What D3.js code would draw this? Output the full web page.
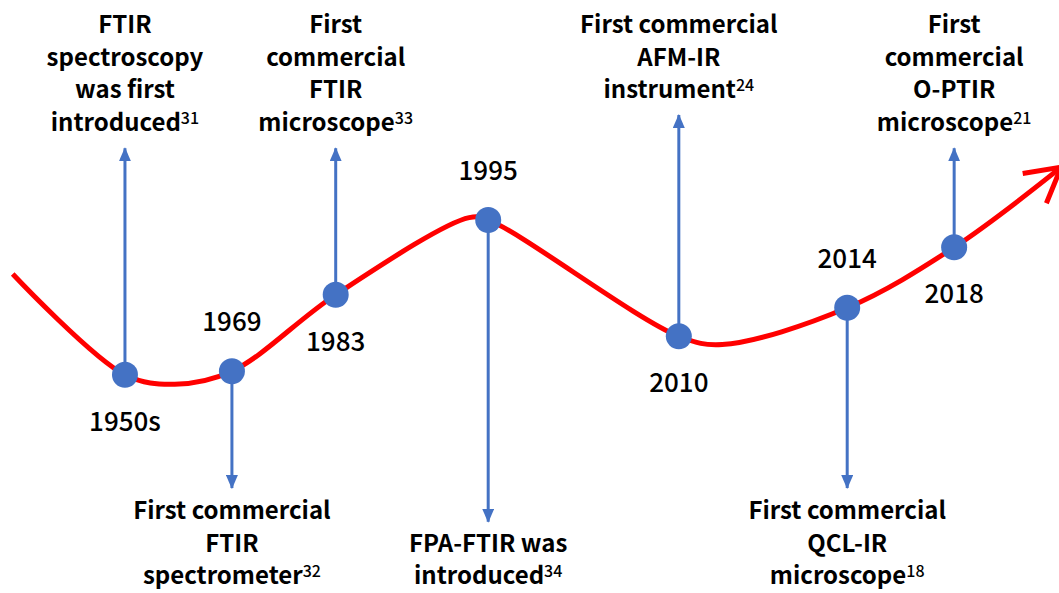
<!DOCTYPE html>
<html lang="en">
<head>
    <meta charset="UTF-8">
    <title>IR spectroscopy timeline</title>
    <style>
        html, body { margin: 0; padding: 0; background: #fff; overflow: hidden; }
        text { font-family: 'Noto Sans CJK SC', 'Noto Sans', sans-serif; fill: #000; }
        .desc { font-size: 24px; font-weight: 700; }
        .year { font-size: 26px; font-weight: 500; }
    </style>
</head>
<body>
    <div id="container"></div>
    <script src="https://d3js.org/d3.v7.min.js"></script>
    <script>
        // events along the timeline (x / y in percent of the picture)
        const years = ["1950s", "1969", "1983", "1995", "2010", "2014", "2018"];
        const eventX = [11.8, 21.9, 31.7, 46.1, 64.1, 80.0, 90.1];
        const eventY = [36.8, 37.4, 50.3, 62.9, 43.3, 48.1, 58.3];
        const arrowTo = [75.0, 17.7, 75.0, 12.0, 80.6, 17.7, 75.0];
        const yearSide = ["below", "above", "below", "above", "below", "above", "below"];
        const descLines = [
            ["FTIR", "spectroscopy", "was first", "introduced"],
            ["First commercial", "FTIR", "spectrometer"],
            ["First", "commercial", "FTIR", "microscope"],
            ["FPA-FTIR was", "introduced"],
            ["First commercial", "AFM-IR", "instrument"],
            ["First commercial", "QCL-IR", "microscope"],
            ["First", "commercial", "O-PTIR", "microscope"]
        ];
        const refs = ["31", "32", "33", "34", "24", "18", "21"];

        // extra points that shape the red trend line (start, dips, peak, end)
        const curveX = [1.2, 11.8, 16.5, 21.9, 31.7, 44.3, 46.1, 64.1, 68.2, 80.0, 90.1, 100.2];
        const curveY = [53.8, 36.8, 35.2, 37.4, 50.3, 63.3, 62.9, 43.3, 41.9, 48.1, 58.3, 71.8];

        const width = 1059, height = 593;
        const blue = '#4472C4';

        const x = d3.scaleLinear().domain([0, 100]).range([0, width]);
        const y = d3.scaleLinear().domain([0, 100]).range([height, 0]);

        const svg = d3.select('#container').append('svg')
            .attr('width', width).attr('height', height);

        const defs = svg.append('defs');
        defs.append('marker').attr('id', 'blueHead')
            .attr('markerUnits', 'userSpaceOnUse')
            .attr('viewBox', '0 0 14 12').attr('refX', 13).attr('refY', 6)
            .attr('markerWidth', 14).attr('markerHeight', 12)
            .attr('orient', 'auto')
            .append('path').attr('d', 'M0,0 L14,6 L0,12 Z').attr('fill', blue);
        defs.append('marker').attr('id', 'redHead')
            .attr('markerUnits', 'userSpaceOnUse')
            .attr('viewBox', '-40 -25 44 50').attr('refX', 0).attr('refY', 0)
            .attr('markerWidth', 44).attr('markerHeight', 50)
            .attr('orient', 'auto')
            .append('path').attr('d', 'M-34,-19 L0,0 L-34,19')
            .attr('fill', 'none').attr('stroke', 'red').attr('stroke-width', 5)
            .attr('stroke-linejoin', 'miter');

        // red trend line
        const pts = curveX.map((v, i) => [v, curveY[i]]);
        const line = d3.line().x(d => x(d[0])).y(d => y(d[1]))
            .curve(d3.curveCatmullRom.alpha(0.5));
        svg.append('path').attr('d', line(pts))
            .attr('fill', 'none').attr('stroke', 'red').attr('stroke-width', 5)
            .attr('marker-end', 'url(#redHead)');

        const events = years.map((yr, i) => ({
            year: yr, x: eventX[i], y: eventY[i], to: arrowTo[i],
            side: yearSide[i], lines: descLines[i], ref: refs[i]
        }));

        // arrows
        svg.selectAll('line.arrow').data(events).join('line')
            .attr('class', 'arrow')
            .attr('x1', d => x(d.x)).attr('y1', d => y(d.y))
            .attr('x2', d => x(d.x)).attr('y2', d => y(d.to))
            .attr('stroke', blue).attr('stroke-width', 3)
            .attr('marker-end', 'url(#blueHead)');

        // dots
        svg.selectAll('circle.dot').data(events).join('circle')
            .attr('class', 'dot')
            .attr('cx', d => x(d.x)).attr('cy', d => y(d.y)).attr('r', 13)
            .attr('fill', blue);

        // year labels
        svg.selectAll('text.year').data(events).join('text')
            .attr('class', 'year')
            .attr('text-anchor', 'middle')
            .attr('x', d => x(d.x))
            .attr('y', d => d.side === 'above' ? y(d.y) - 40 : y(d.y) + 56)
            .text(d => d.year);

        // descriptions: above the line if the arrow points up
        const lineGap = 32.5;
        events.forEach(d => {
            const up = d.to > d.y;
            const n = d.lines.length;
            const firstBase = up ? 33 : 584 - (n - 1) * lineGap;
            const t = svg.append('text').attr('class', 'desc')
                .attr('text-anchor', 'middle');
            d.lines.forEach((ln, k) => {
                t.append('tspan').attr('x', x(d.x))
                    .attr('y', firstBase + k * lineGap).text(ln);
                if (k === n - 1) {
                    t.append('tspan').attr('dy', -7).attr('font-size', 16)
                        .attr('font-weight', 500).text(d.ref);
                }
            });
        });
    </script>
</body>
</html>
